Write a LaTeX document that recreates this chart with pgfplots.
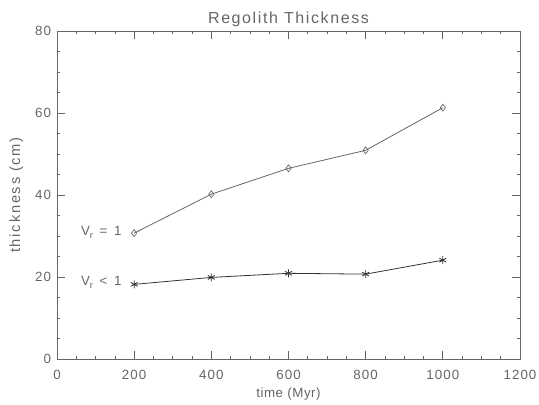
\documentclass[border=0pt]{standalone}
\usepackage{fontspec}
\setmainfont{Liberation Sans}
\usepackage{pgfplots}
\pgfplotsset{compat=1.18}

\definecolor{idlgray}{gray}{0.4}

\begin{document}
\begin{tikzpicture}
% page size fixed to the reference frame (1px = 0.75pt)
\path[use as bounding box] (-42.75pt,-33.75pt) rectangle (361.5pt,269.25pt);
\begin{axis}[
    at={(0,0)}, anchor=south west,
    scale only axis,
    width=347.25pt, height=246pt,
    xmin=0, xmax=1200, ymin=0, ymax=80,
    xtick={0,200,...,1200}, ytick={0,20,...,80},
    minor x tick num=3, minor y tick num=3,
    major tick length=6pt, minor tick length=2.5pt,
    tick align=inside,
    axis line style={idlgray, line width=0.6pt},
    every tick/.style={idlgray, line width=0.6pt},
    every minor tick/.style={idlgray, line width=0.5pt},
    tick label style={font=\fontsize{10}{12}\selectfont\addfontfeature{LetterSpace=8}, text=idlgray},
    /pgf/number format/assume math mode=true,
    /pgf/number format/1000 sep={},
    xticklabel style={yshift=-5pt},
    yticklabel style={xshift=-1pt},
    title={Regolith Thickness},
    title style={font=\fontsize{12}{14}\selectfont\addfontfeature{LetterSpace=10}, text=idlgray, yshift=-6.5pt},
    xlabel={time (Myr)},
    ylabel={thickness (cm)},
    xlabel style={font=\fontsize{10}{12}\selectfont\addfontfeature{LetterSpace=4}, text=idlgray, yshift=1pt},
    ylabel style={font=\fontsize{11}{13}\selectfont\addfontfeature{LetterSpace=12}, text=idlgray, yshift=2pt},
]
\addplot[idlgray, line width=0.6pt, mark=diamond, mark size=2.6pt,
         mark options={solid, line width=0.5pt}]
    coordinates {(200,30.7) (400,40.2) (600,46.5) (800,50.9) (1000,61.3)};
\addplot[black!80, line width=0.6pt, mark=asterisk, mark size=3pt,
         mark options={solid, line width=0.6pt}]
    coordinates {(200,18.2) (400,19.9) (600,20.9) (800,20.7) (1000,24.1)};
\node[anchor=west, text=idlgray, font=\fontsize{10}{12}\selectfont\addfontfeature{LetterSpace=6}]
    at (axis cs:50,30.9) {V\raisebox{-0.45ex}{\scriptsize r} \,=\, 1};
\node[anchor=west, text=idlgray, font=\fontsize{10}{12}\selectfont\addfontfeature{LetterSpace=6}]
    at (axis cs:50,18.6) {V\raisebox{-0.45ex}{\scriptsize r} \,<\, 1};
\end{axis}
\end{tikzpicture}
\end{document}
